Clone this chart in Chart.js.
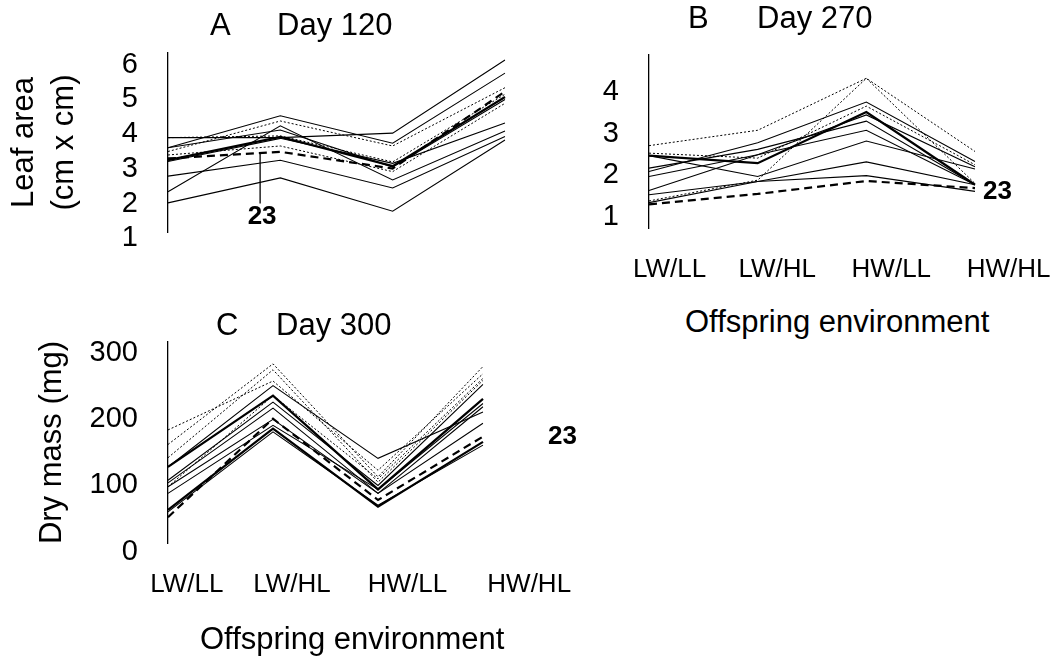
<!DOCTYPE html>
<html>
<head>
<meta charset="utf-8">
<script src="https://cdn.jsdelivr.net/npm/chart.js@4.4.0/dist/chart.umd.min.js"></script>
<style>
  body { margin: 0; background: #fff; width: 1060px; height: 657px; position: relative; overflow: hidden;
         font-family: "Liberation Sans", Arial, sans-serif; color: #000; }
  canvas { position: absolute; }
  .t { position: absolute; font-size: 31px; line-height: 1; white-space: nowrap; }
</style>
</head>
<body>
<canvas id="chartA" width="530" height="290" style="left:0;top:0"></canvas>
<canvas id="chartB" width="500" height="300" style="left:560px;top:0"></canvas>
<canvas id="chartC" width="600" height="357" style="left:0;top:300px"></canvas>

<div class="t" style="left:210px;top:9px">A</div>
<div class="t" style="left:277px;top:9px">Day 120</div>
<div class="t" style="left:688px;top:2px">B</div>
<div class="t" style="left:757px;top:2px">Day 270</div>
<div class="t" style="left:216px;top:309px">C</div>
<div class="t" style="left:276px;top:309px">Day 300</div>
<div class="t" style="left:685px;top:306px">Offspring environment</div>
<div class="t" style="left:200px;top:623px">Offspring environment</div>

<script>
const categories = ['LW/LL', 'LW/HL', 'HW/LL', 'HW/HL'];

// A: leaf area at day 120, one row per line
const leafArea120 = [
  [3.90, 3.90, 4.03, 6.14],
  [3.61, 4.53, 3.74, 5.76],
  [3.50, 4.38, 3.66, 5.34],
  [2.34, 4.24, 2.68, 4.09],
  [3.21, 3.88, 3.16, 4.32],
  [3.25, 3.92, 3.08, 5.07],
  [3.30, 3.49, 3.01, 5.23],
  [3.40, 3.66, 2.92, 4.89],
  [2.79, 3.25, 2.45, 3.93],
  [2.02, 2.74, 1.78, 3.83],
  [3.61, 4.12, 3.05, 5.00],
  [3.90, 3.95, 3.20, 5.15]
];
const kinds120 = ['solid', 'solid', 'dot', 'solid', 'solid', 'thick', 'dash', 'dot', 'solid', 'solid', 'solid', 'dot'];

// B: leaf area at day 270
const leafArea270 = [
  [2.71, 3.08, 4.33, 2.57],
  [1.38, 1.88, 4.33, 1.80],
  [2.53, 2.41, 3.66, 2.25],
  [2.47, 2.29, 3.52, 1.77],
  [2.47, 1.97, 2.82, 2.15],
  [2.09, 2.78, 3.76, 2.33],
  [2.17, 2.62, 3.30, 1.77],
  [1.97, 2.49, 3.45, 2.20],
  [1.63, 2.49, 3.08, 1.77],
  [1.53, 1.85, 2.32, 1.77],
  [1.34, 1.85, 1.99, 1.61],
  [1.30, 1.55, 1.86, 1.69]
];
const kinds270 = ['dot', 'dot', 'dot', 'thick', 'solid', 'solid', 'solid', 'solid', 'solid', 'solid', 'solid', 'dash'];

// C: dry mass at day 300
const dryMass300 = [
  [184, 258, 123, 269],
  [162, 284, 113, 280],
  [142, 275, 105, 259],
  [128, 236, 94, 231],
  [128, 251, 141, 211],
  [108, 226, 100, 253],
  [104, 217, 88, 219],
  [98, 236, 110, 262],
  [88, 191, 94, 224],
  [98, 200, 88, 194],
  [63, 186, 68, 166],
  [60, 181, 70, 161],
  [52, 201, 78, 174]
];
const kinds300 = ['dot', 'dot', 'dot', 'thick', 'solid', 'solid', 'solid', 'dot', 'solid', 'solid', 'thick', 'solid', 'dash'];

const ticks120 = [1, 2, 3, 4, 5, 6];
const ticks270 = [1, 2, 3, 4];
const ticks300 = [0, 100, 200, 300];

// where the category names sit along the x axis (in category units)
const labelPosB = [0.19, 1.18, 2.23, 3.31];
const labelPosC = [0.18, 1.18, 2.28, 3.44];

Chart.defaults.font.family = '"Liberation Sans", Arial, sans-serif';
Chart.defaults.color = '#000';

function styleOf(kind) {
  if (kind === 'dot') return { borderWidth: 1, borderDash: [2, 2] };
  if (kind === 'thick') return { borderWidth: 2.2, borderDash: [] };
  if (kind === 'dash') return { borderWidth: 2.2, borderDash: [8, 5] };
  return { borderWidth: 1.1, borderDash: [] };
}

// label "23" on the dashed line
const note23 = {
  id: 'note23',
  afterDatasetsDraw(chart, args, opts) {
    const { ctx, scales: { x, y } } = chart;
    const vals = chart.data.datasets[opts.index].data;
    ctx.save();
    ctx.font = 'bold 26px "Liberation Sans", Arial, sans-serif';
    ctx.fillStyle = '#000';
    ctx.strokeStyle = '#000';
    ctx.textBaseline = 'middle';
    if (opts.leader) {
      const f = opts.leader.at;
      const px = x.getPixelForValue(0) + f * (x.getPixelForValue(1) - x.getPixelForValue(0));
      const py = y.getPixelForValue(vals[0] + f * (vals[1] - vals[0]));
      const py2 = y.getPixelForValue(opts.leader.to);
      ctx.lineWidth = 1.3;
      ctx.beginPath();
      ctx.moveTo(px, py);
      ctx.lineTo(px, py2);
      ctx.stroke();
      ctx.textAlign = 'center';
      ctx.fillText('23', px + 2, py2 + 13);
    } else {
      const last = vals.length - 1;
      ctx.textAlign = 'left';
      ctx.fillText('23', x.getPixelForValue(last) + opts.dx, y.getPixelForValue(vals[last]) + opts.dy);
    }
    ctx.restore();
  }
};

function makePanel(id, series, kinds, o) {
  const scales = {
    x: { type: 'category', display: false, offset: false },
    y: {
      min: o.min, max: o.max,
      afterBuildTicks: s => { s.ticks = o.ticks.map(v => ({ value: v })); },
      afterFit: s => { s.width = o.yWidth; },
      grid: { display: false },
      border: { display: true, color: '#000', width: 1.3 },
      ticks: { padding: 22, font: { size: 29 }, autoSkip: false },
      title: o.yTitle ? {
        display: true, text: o.yTitle.text,
        font: { size: 31, lineHeight: o.yTitle.lh },
        padding: { top: o.yTitle.pad, bottom: 0 }
      } : { display: false }
    }
  };
  if (o.labelPos) {
    scales.xl = {
      type: 'linear', position: 'bottom', min: 0, max: 3,
      afterBuildTicks: s => { s.ticks = o.labelPos.map(v => ({ value: v })); },
      afterFit: s => { s.height = 60; },
      grid: { display: false },
      border: { display: false },
      ticks: { padding: 18, font: { size: 26 }, autoSkip: false, maxRotation: 0, minRotation: 0,
               callback: (v, i) => categories[i] }
    };
  }
  return new Chart(document.getElementById(id), {
    type: 'line',
    data: {
      labels: categories,
      datasets: series.map((d, i) => Object.assign({
        data: d, xAxisID: 'x', yAxisID: 'y',
        borderColor: '#000', pointRadius: 0, tension: 0, fill: false
      }, styleOf(kinds[i])))
    },
    options: {
      responsive: false,
      animation: false,
      layout: { padding: o.pad },
      plugins: { legend: { display: false }, tooltip: { enabled: false }, note23: o.note },
      scales
    },
    plugins: [note23]
  });
}

makePanel('chartA', leafArea120, kinds120, {
  min: 1.18, max: 6.34, ticks: ticks120, yWidth: 168,
  pad: { left: 0, top: 53, right: 25, bottom: 58 },
  yTitle: { text: ['Leaf area', '(cm x cm)'], lh: 1.32, pad: 3.5 },
  note: { index: 6, leader: { at: 0.82, to: 2.0 } }
});

makePanel('chartB', leafArea270, kinds270, {
  min: 0.73, max: 4.89, ticks: ticks270, yWidth: 89,
  pad: { left: 0, top: 55, right: 85, bottom: 12 },
  labelPos: labelPosB,
  note: { index: 11, dx: 8, dy: 4 }
});

makePanel('chartC', dryMass300, kinds300, {
  min: 13, max: 317, ticks: ticks300, yWidth: 168,
  pad: { left: 0, top: 42, right: 117, bottom: 54 },
  labelPos: labelPosC,
  yTitle: { text: 'Dry mass (mg)', lh: 1.2, pad: 34 },
  note: { index: 12, dx: 65, dy: 0 }
});
</script>
</body>
</html>
